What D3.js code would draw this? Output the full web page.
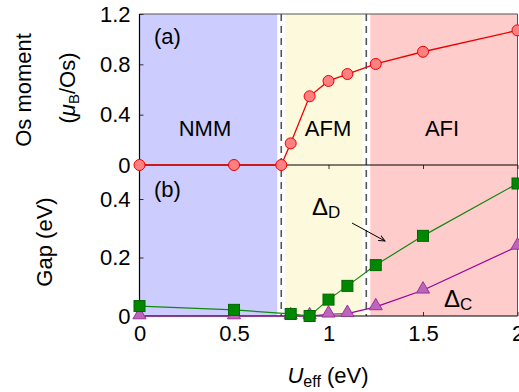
<!DOCTYPE html>
<html>
<head>
<meta charset="utf-8">
<script src="https://cdn.jsdelivr.net/npm/d3@7"></script>
<style>
  body { margin: 0; background: #fff; }
  text { font-family: "Liberation Sans", Arial, sans-serif; fill: #000; }
</style>
</head>
<body>
<div id="chart"></div>
<script>
var width = 519, height = 392;

// phase regions (U_eff)
var phases = [
  { name: "NMM", from: 0, to: 0.75, color: "#ccccff" },
  { name: "AFM", from: 0.75, to: 1.2, color: "#fdf9dc" },
  { name: "AFI", from: 1.2, to: 2.0, color: "#ffcccc" }
];
var boundaries = [0.75, 1.2];

// panel (a): Os moment
var uMoment = [0, 0.5, 0.75, 0.8, 0.9, 1.0, 1.1, 1.25, 1.5, 2.0];
var moment = [0, 0, 0, 0.172, 0.546, 0.668, 0.723, 0.803, 0.90, 1.07];

// panel (b): gaps
var uGap = [0, 0.5, 0.8, 0.9, 1.0, 1.1, 1.25, 1.5, 2.0];
var gapD = [0.034, 0.021, 0.007, 0.0, 0.056, 0.103, 0.174, 0.274, 0.453];
var gapC = [0, 0, 0, 0, 0.006, 0.008, 0.031, 0.088, 0.238];

var xTicks = [0, 0.5, 1, 1.5, 2];
var momentTicks = [0, 0.4, 0.8, 1.2];
var gapTicks = [0, 0.2, 0.4];

var left = 139.5, right = 517.5, topA = 14, mid = 165, bottom = 316;
var fs = "22px";

var svg = d3.select("#chart").append("svg")
  .attr("width", width).attr("height", height);

var x = d3.scaleLinear().domain([0, 2]).range([left, right]);
var yA = d3.scaleLinear().domain([0, 1.2]).range([mid, topA]);
var yB = d3.scaleLinear().domain([0, 0.4]).range([bottom, bottom - 117]);

// background phases
svg.selectAll(".phase").data(phases).enter()
  .append("rect")
  .attr("x", function (d) { return x(d.from); })
  .attr("width", function (d) { return x(d.to) - x(d.from); })
  .attr("y", topA).attr("height", bottom - topA)
  .attr("fill", function (d) { return d.color; });

// white strips + dashed boundaries
svg.selectAll(".strip").data(boundaries).enter()
  .append("rect")
  .attr("x", function (d) { return x(d) - 4; })
  .attr("width", 8)
  .attr("y", topA).attr("height", bottom - topA)
  .attr("fill", "#fff");
svg.selectAll(".bline").data(boundaries).enter()
  .append("line")
  .attr("x1", function (d) { return x(d); }).attr("x2", function (d) { return x(d); })
  .attr("y1", topA).attr("y2", bottom)
  .attr("stroke", "#555").attr("stroke-width", 1.6)
  .attr("stroke-dasharray", "7,5");

// frame
svg.append("line").attr("x1", left).attr("x2", right).attr("y1", topA).attr("y2", topA)
  .attr("stroke", "#555").attr("stroke-width", 1);
svg.append("line").attr("x1", right).attr("x2", right).attr("y1", topA).attr("y2", bottom)
  .attr("stroke", "#555").attr("stroke-width", 1);

// axes
var axA = svg.append("g").attr("transform", "translate(" + left + ",0)")
  .call(d3.axisLeft(yA).tickValues(momentTicks.slice(1)).tickSize(-4).tickPadding(9)
    .tickFormat(function (d) { return d3.format(".1f")(d); }));
var axB = svg.append("g").attr("transform", "translate(" + left + ",0)")
  .call(d3.axisLeft(yB).tickValues(gapTicks).tickSize(-4).tickPadding(9)
    .tickFormat(function (d) { return d === 0 ? "0" : d3.format(".1f")(d); }));
// zero label for (a)
svg.append("text").attr("x", left - 9).attr("y", yA(0)).attr("dy", "0.35em")
  .attr("text-anchor", "end").style("font-size", fs).text("0");
var axX = svg.append("g").attr("transform", "translate(0," + bottom + ")")
  .call(d3.axisBottom(x).tickValues(xTicks).tickSize(-4).tickPadding(9)
    .tickFormat(function (d) { return d; }));
var axMid = svg.append("g").attr("transform", "translate(0," + mid + ")")
  .call(d3.axisBottom(x).tickValues(xTicks).tickSize(4).tickFormat(""));

[axA, axB, axX, axMid].forEach(function (g) {
  g.select(".domain").remove();
  g.selectAll("line").attr("stroke", "#333");
  g.selectAll("text").style("font-size", fs).style("font-family", "Liberation Sans, Arial, sans-serif").attr("fill", "#000");
});

svg.append("line").attr("x1", left).attr("x2", left).attr("y1", topA).attr("y2", bottom)
  .attr("stroke", "#000").attr("stroke-width", 1.2);
svg.append("line").attr("x1", left).attr("x2", right).attr("y1", bottom).attr("y2", bottom)
  .attr("stroke", "#000").attr("stroke-width", 1.2);
svg.append("line").attr("x1", left).attr("x2", right).attr("y1", mid).attr("y2", mid)
  .attr("stroke", "#000").attr("stroke-width", 1.2);

// panel (a) line + markers
var lineA = d3.line().x(function (d, i) { return x(uMoment[i]); }).y(function (d) { return yA(d); });
svg.append("path").datum(moment).attr("d", lineA)
  .attr("fill", "none").attr("stroke", "#ee0000").attr("stroke-width", 1.3);
svg.selectAll(".mdot").data(moment).enter()
  .append("circle")
  .attr("cx", function (d, i) { return x(uMoment[i]); })
  .attr("cy", function (d) { return yA(d); })
  .attr("r", 5.5)
  .attr("fill", "#ff8080").attr("stroke", "#ee0000").attr("stroke-width", 1);

// panel (b): Delta C (purple)
var lineB = d3.line().x(function (d, i) { return x(uGap[i]); }).y(function (d) { return yB(d); });
svg.append("path").datum(gapC).attr("d", lineB)
  .attr("fill", "none").attr("stroke", "#990099").attr("stroke-width", 1.2);
var tri = d3.symbol().type(d3.symbolTriangle).size(75);
svg.selectAll(".tdot").data(gapC).enter()
  .append("path")
  .attr("d", tri)
  .attr("transform", function (d, i) { return "translate(" + x(uGap[i]) + "," + (yB(d) - 1) + ")"; })
  .attr("fill", "#bb66bb").attr("stroke", "#993399").attr("stroke-width", 1);

// Delta D (green)
svg.append("path").datum(gapD).attr("d", lineB)
  .attr("fill", "none").attr("stroke", "#118811").attr("stroke-width", 1.2);
svg.selectAll(".sdot").data(gapD).enter()
  .append("rect")
  .attr("x", function (d, i) { return x(uGap[i]) - 5.5; })
  .attr("y", function (d) { return yB(d) - 5.5; })
  .attr("width", 11).attr("height", 11)
  .attr("fill", "#008800").attr("stroke", "#006600").attr("stroke-width", 1);

// panel labels and phase names
svg.append("text").attr("x", 154).attr("y", 44).style("font-size", fs).text("(a)");
svg.append("text").attr("x", 154).attr("y", 197).style("font-size", fs).text("(b)");
var phaseX = { NMM: 205, AFM: 328, AFI: 442 };
svg.selectAll(".pname").data(phases).enter()
  .append("text")
  .attr("x", function (d) { return phaseX[d.name]; })
  .attr("y", 136)
  .attr("text-anchor", "middle")
  .style("font-size", fs)
  .text(function (d) { return d.name; });

// Delta labels
var tD = svg.append("text").attr("x", 312).attr("y", 215).style("font-size", "24px");
tD.append("tspan").text("\u0394");
tD.append("tspan").attr("dy", 3).style("font-size", "17px").text("D");
var tC = svg.append("text").attr("x", 444).attr("y", 307).style("font-size", "24px");
tC.append("tspan").text("\u0394");
tC.append("tspan").attr("dy", 3).style("font-size", "17px").text("C");

// arrow
svg.append("defs").append("marker").attr("id", "arr")
  .attr("viewBox", "0 0 10 10").attr("refX", 9).attr("refY", 5)
  .attr("markerWidth", 7).attr("markerHeight", 7).attr("orient", "auto")
  .append("path").attr("d", "M0,1 L9,5 L0,9").attr("fill", "none").attr("stroke", "#000").attr("stroke-width", 1.3);
svg.append("line").attr("x1", 352).attr("y1", 223).attr("x2", 385).attr("y2", 241)
  .attr("stroke", "#000").attr("stroke-width", 1).attr("marker-end", "url(#arr)");

// axis titles
svg.append("text").attr("transform", "translate(31,90) rotate(-90)")
  .attr("text-anchor", "middle").style("font-size", fs).text("Os moment");
var unit = svg.append("text").attr("transform", "translate(75,88) rotate(-90)")
  .attr("text-anchor", "middle").style("font-size", fs);
unit.append("tspan").text("(");
unit.append("tspan").style("font-style", "italic").text("\u03bc");
unit.append("tspan").attr("dy", 4).style("font-size", "15px").text("B");
unit.append("tspan").attr("dy", -4).text("/Os)");
svg.append("text").attr("transform", "translate(52,242) rotate(-90)")
  .attr("text-anchor", "middle").style("font-size", fs).text("Gap (eV)");
var xl = svg.append("text").attr("x", 328).attr("y", 383)
  .attr("text-anchor", "middle").style("font-size", fs);
xl.append("tspan").style("font-style", "italic").text("U");
xl.append("tspan").attr("dy", 4).style("font-size", "16px").text("eff");
xl.append("tspan").attr("dy", -4).text(" (eV)");
</script>
</body>
</html>
